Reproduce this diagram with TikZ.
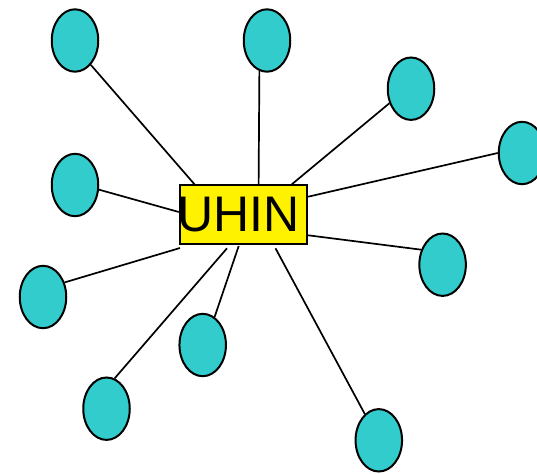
\documentclass[tikz,border=0pt]{standalone}
\usepackage{fontspec}
\setmainfont{Liberation Sans}
\usetikzlibrary{shapes.geometric,calc}
\definecolor{leaf}{HTML}{33CCCC}
\begin{document}
\begin{tikzpicture}[x=1pt,y=-1pt,
  leafnode/.style={ellipse, draw=black, line width=2pt, fill=leaf, minimum width=46.5pt, minimum height=62.4pt, inner sep=0pt},
  hubnode/.style={rectangle, draw=black, line width=1.8pt, fill=yellow, minimum width=126.9pt, minimum height=58.9pt, inner sep=0pt, font=\fontsize{50pt}{60pt}\selectfont},
  link/.style={line width=1.7pt}]
\useasboundingbox (0,0) rectangle (537,473);
\node[hubnode] (hub) at (243.15,214.65) {\hspace*{-4.5pt}UHIN\hspace*{4.5pt}};
\node[leafnode] (e1) at (75,40.5) {};
\node[leafnode] (e2) at (267,40.5) {};
\node[leafnode] (e3) at (411,88.7) {};
\node[leafnode] (e4) at (522,153) {};
\node[leafnode] (e5) at (75,185) {};
\node[leafnode] (e6) at (43,297) {};
\node[leafnode] (e7) at (442.6,264.7) {};
\node[leafnode] (e8) at (202.7,345) {};
\node[leafnode] (e9) at (106.5,408.7) {};
\node[leafnode] (e10) at (378.8,440.3) {};
\coordinate (h1) at ($(hub)+(-48.65,-30.35)$);
\coordinate (h2) at ($(hub)+(15.45,-30.35)$);
\coordinate (h3) at ($(hub)+(48.65,-30.35)$);
\coordinate (h4) at ($(hub)+(65.05,-17.95)$);
\coordinate (h5) at ($(hub)+(-64.35,-2.65)$);
\coordinate (h6) at ($(hub)+(-63.15,33.35)$);
\coordinate (h7) at ($(hub)+(65.05,20.65)$);
\coordinate (h8) at ($(hub)+(-4.45,31.35)$);
\coordinate (h9) at ($(hub)+(-16.15,33.65)$);
\coordinate (h10) at ($(hub)+(32.35,33.65)$);
\draw[link] (e1.-57.3) -- (h1);
\draw[link] (e2.-104.6) -- (h2);
\draw[link] (e3.214.2) -- (h3);
\draw[link] (e4.180) -- (h4);
\draw[link] (e5.-11.6) -- (h5);
\draw[link] (e6.34.1) -- (h6);
\draw[link] (e7.145.3) -- (h7);
\draw[link] (e8.67) -- (h8);
\draw[link] (e9.75.2) -- (h9);
\draw[link] (e10.118.2) -- (h10);
\end{tikzpicture}
\end{document}
